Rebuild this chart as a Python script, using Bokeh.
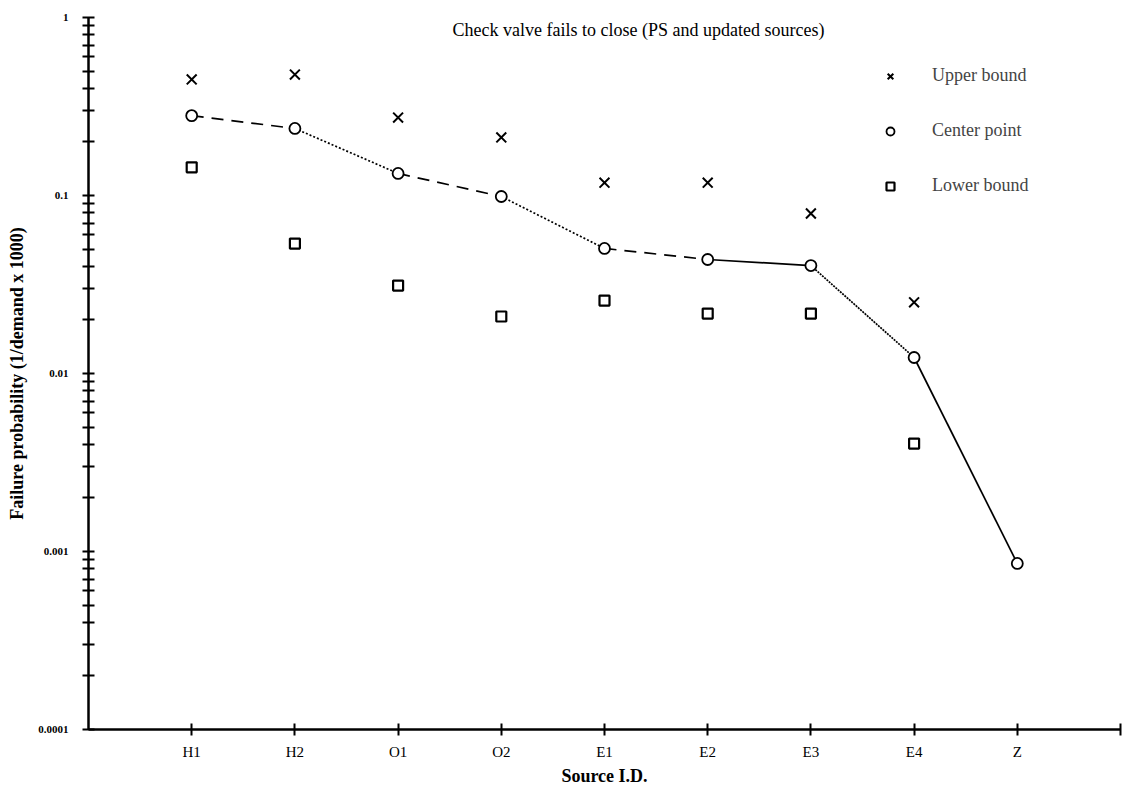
from bokeh.plotting import figure
from bokeh.models import Range1d, FixedTicker, Legend, LegendItem, Label
from bokeh.embed import file_html
from bokeh.resources import INLINE

# ---- data ----
sources = ["H1", "H2", "O1", "O2", "E1", "E2", "E3", "E4", "Z"]
center_point = [0.281, 0.238, 0.133, 0.0987, 0.0504, 0.0437, 0.0404, 0.0123, 0.000857]
upper_src = ["H1", "H2", "O1", "O2", "E1", "E2", "E3", "E4"]
upper_bound = [0.449, 0.478, 0.274, 0.212, 0.118, 0.118, 0.0792, 0.0251]
lower_src = ["H1", "H2", "O1", "O2", "E1", "E2", "E3", "E4"]
lower_bound = [0.144, 0.0537, 0.0312, 0.0209, 0.0257, 0.0217, 0.0217, 0.00404]
segment_dash = ["12 8", "2 2", "12 8", "2 2", "12 8", "solid", "2 1", "solid"]
y_major = [0.0001, 0.001, 0.01, 0.1, 1]
y_major_labels = ["0.0001", "0.001", "0.01", "0.1", "1"]
title_text = "Check valve fails to close (PS and updated sources)"

pos = {s: i + 1 for i, s in enumerate(sources)}
xc = [pos[s] for s in sources]
xu = [pos[s] for s in upper_src]
xl = [pos[s] for s in lower_src]

SERIF = "Liberation Serif"

p = figure(width=1123, height=796, y_axis_type="log",
           x_range=Range1d(0, len(sources) + 1), y_range=Range1d(y_major[0], y_major[-1]),
           output_backend="svg", toolbar_location=None,
           min_border_left=88, min_border_top=17, min_border_right=3, min_border_bottom=67)
p.outline_line_color = None
p.xgrid.visible = False
p.ygrid.visible = False

# ---- lines between center points ----
for i in range(len(xc) - 1):
    kw = dict(line_color="black", line_width=1.7)
    if segment_dash[i] != "solid":
        kw["line_dash"] = segment_dash[i]
    p.line([xc[i], xc[i + 1]], [center_point[i], center_point[i + 1]], **kw)

r_up = p.scatter(xu, upper_bound, marker="x", size=14, line_color="black", line_width=2)
r_c = p.scatter(xc, center_point, marker="circle", size=11, line_color="black",
                fill_color="white", line_width=1.8)
r_lo = p.scatter(xl, lower_bound, marker="square", size=10, line_color="black",
                 fill_color="white", line_width=2.2)

# ---- axes ----
minor = []
for d in y_major[:-1]:
    minor += [d * k for k in range(2, 10)]
p.yaxis.ticker = FixedTicker(ticks=y_major, minor_ticks=minor)
p.yaxis.major_label_overrides = {v: s for v, s in zip(y_major, y_major_labels)}
p.xaxis.ticker = FixedTicker(ticks=list(range(1, len(sources) + 2)))
p.xaxis.major_label_overrides = {pos[s]: s for s in sources}
p.xaxis.major_label_overrides[len(sources) + 1] = ""

for ax in (p.xaxis[0], p.yaxis[0]):
    ax.axis_line_width = 2.5
    ax.axis_line_color = "black"
    ax.major_tick_line_color = "black"
    ax.minor_tick_line_color = "black"
    ax.major_tick_line_width = 2
    ax.minor_tick_line_width = 2
    ax.major_tick_in = 6
    ax.major_tick_out = 6
    ax.minor_tick_in = 6
    ax.minor_tick_out = 6
    ax.axis_label_text_font = SERIF
    ax.axis_label_text_font_style = "bold"
    ax.axis_label_text_font_size = "18px"
    ax.axis_label_text_color = "black"
    ax.major_label_text_font = SERIF
    ax.major_label_text_color = "black"

p.xaxis.minor_tick_in = 0
p.xaxis.minor_tick_out = 0
p.xaxis.major_label_text_font_size = "15px"
p.xaxis.major_label_standoff = 8
p.xaxis.axis_label = "Source I.D."
p.xaxis.axis_label_standoff = 3

p.yaxis.major_label_text_font_size = "11px"
p.yaxis.major_label_text_font_style = "bold"
p.yaxis.major_label_standoff = 14
p.yaxis.axis_label = "Failure probability (1/demand x 1000)"
p.yaxis.axis_label_standoff = 8

# ---- title inside plot ----
p.add_layout(Label(x=5.33, y=0.85, text=title_text, text_align="center",
                   text_baseline="middle", text_font=SERIF, text_font_size="18px",
                   text_color="black"))

# ---- legend ----
legend = Legend(items=[LegendItem(label="Upper bound", renderers=[r_up]),
                       LegendItem(label="Center point", renderers=[r_c]),
                       LegendItem(label="Lower bound", renderers=[r_lo])],
                location=(792, 533), border_line_color=None, background_fill_alpha=0,
                label_text_font=SERIF, label_text_font_size="18px",
                label_standoff=32, glyph_width=20, glyph_height=20,
                label_height=20, spacing=34, padding=10, margin=0)
p.add_layout(legend)

open("out.html", "w").write(file_html(p, INLINE))
